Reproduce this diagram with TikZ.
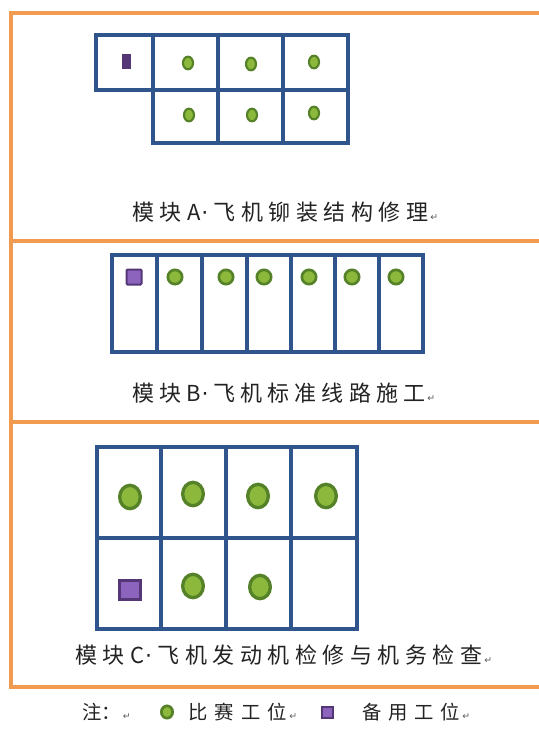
\documentclass[tikz,border=0pt]{standalone}
\usepackage{fontspec}
\setmainfont{Noto Sans CJK SC}
\newfontfamily\symf{DejaVu Sans}
\usetikzlibrary{shapes.geometric}
\definecolor{frameorange}{RGB}{240,155,80}
\definecolor{gridblue}{RGB}{47,85,140}
\definecolor{dotlight}{RGB}{140,185,60}
\definecolor{dotdark}{RGB}{85,130,40}
\definecolor{splight}{RGB}{140,100,190}
\definecolor{spdark}{RGB}{85,55,120}
\definecolor{retgray}{RGB}{90,90,90}
\definecolor{txt}{RGB}{35,35,35}
\newdimen\pxu \pxu=0.75pt
\newcommand\retmark{\hspace{2\pxu}{\symf\fontsize{7}{8}\selectfont\textcolor{retgray}{↵}}}
\newcommand\mdot{{\symf\kern0.5pt·}}
\tikzset{
  orangeline/.style={draw=frameorange,line width=3pt},
  gridline/.style={draw=gridblue,line width=3.2pt},
  gdot/.style={ellipse,draw=dotdark,fill=dotlight,line width=#1,inner sep=0pt},
  gdot/.default=2pt,
  spare/.style={rectangle,draw=spdark,fill=splight,line width=#1,inner sep=0pt,rounded corners=0.8pt},
  spare/.default=1.5pt,
  lbl/.style={inner sep=0pt,anchor=west,text=txt,font=\fontsize{16.5}{18}\selectfont},
  lgd/.style={inner sep=0pt,anchor=west,text=txt,font=\fontsize{14.5}{16}\selectfont}
}
\begin{document}
\begin{tikzpicture}[x=0.75pt,y=-0.75pt]
\useasboundingbox (0,0) rectangle (539,733);
\clip (0,0) rectangle (539,733);
\fill[white] (0,0) rectangle (539,733);
% orange frame
\draw[orangeline] (560,13) -- (11,13) -- (11,687) -- (560,687);
\draw[orangeline] (11,241) -- (560,241);
\draw[orangeline] (11,422) -- (560,422);

% ---------- Module A ----------
\draw[gridline,line width=3.5pt] (96,35) rectangle (348,90);
\draw[gridline,line width=3.5pt] (153,90) rectangle (348,143);
\draw[gridline,line width=3.5pt] (218,35) -- (218,143) (283,35) -- (283,143) (153,35) -- (153,90);
\node[rectangle,fill=spdark,inner sep=0pt,minimum width=6.75pt,minimum height=11pt] (aS) at (126.5,61.5) {};
\foreach \n/\x/\y in {a1/188/63,a2/251/64,a3/314/62,a4/189/115,a5/252/115,a6/314/113}
  \node[gdot=1.6pt,minimum width=7.5pt,minimum height=9.5pt] (\n) at (\x,\y) {};
\node[lbl] (labA) at (132,212) {\makebox[296\pxu][s]{模\hfill 块\hfill A\mdot\hfill 飞\hfill 机\hfill 铆\hfill 装\hfill 结\hfill 构\hfill 修\hfill 理}\retmark};

% ---------- Module B ----------
\draw[gridline,line width=3pt] (112,255) rectangle (423,352);
\foreach \x in {157,202,247,291,335,379}
  \draw[gridline,line width=3pt] (\x,255) -- (\x,352);
\node[spare,minimum width=11.25pt,minimum height=11.25pt] (bS) at (134,277) {};
\foreach \n/\x in {b1/175,b2/226,b3/264,b4/309,b5/352,b6/396}
  \node[gdot=2pt,minimum width=10.75pt,minimum height=10.75pt] (\n) at (\x,277) {};
\node[lbl] (labB) at (132,393) {\makebox[293\pxu][s]{模\hfill 块\hfill B\mdot\hfill 飞\hfill 机\hfill 标\hfill 准\hfill 线\hfill 路\hfill 施\hfill 工}\retmark};

% ---------- Module C ----------
\draw[gridline,line width=3.5pt] (97,447) rectangle (357,629);
\draw[gridline,line width=3.5pt] (97,538) -- (357,538);
\foreach \x in {161,226,291}
  \draw[gridline,line width=3.5pt] (\x,447) -- (\x,629);
\foreach \n/\x/\y in {c1/130/497,c2/193/494,c3/258/496,c4/326/496,c5/193/586,c6/260/587}
  \node[gdot=2.5pt,minimum width=15.5pt,minimum height=17.5pt] (\n) at (\x,\y) {};
\node[spare=2pt,minimum width=16pt,minimum height=14.5pt,rounded corners=0pt] (cS) at (130,590) {};
\node[lbl] (labC) at (75,655) {\makebox[407\pxu][s]{模\hfill 块\hfill C\mdot\hfill 飞\hfill 机\hfill 发\hfill 动\hfill 机\hfill 检\hfill 修\hfill 与\hfill 机\hfill 务\hfill 检\hfill 查}\retmark};

% ---------- Legend ----------
\node[lgd] (note) at (82,712) {注：\retmark};
\node[gdot=2pt,minimum width=8.5pt,minimum height=9.25pt] (lgdot) at (167,712) {};
\node[lgd] (lg1) at (188,712) {\makebox[99\pxu][s]{比\hfill 赛\hfill 工\hfill 位}\retmark};
\node[spare,minimum width=8.25pt,minimum height=8.25pt,rounded corners=0pt] (lgsq) at (327,712) {};
\node[lgd] (lg2) at (362,712) {\makebox[98\pxu][s]{备\hfill 用\hfill 工\hfill 位}\retmark};
\end{tikzpicture}
\end{document}
